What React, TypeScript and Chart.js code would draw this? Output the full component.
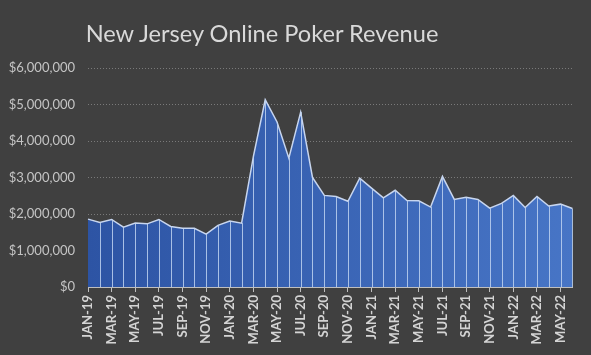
import React, { useEffect, useRef } from "react";
import { Chart, registerables } from "chart.js";

Chart.register(...registerables);

const TITLE = "New Jersey Online Poker Revenue";

const months: string[] = [
  "JAN-19", "FEB-19", "MAR-19", "APR-19", "MAY-19", "JUN-19", "JUL-19", "AUG-19", "SEP-19", "OCT-19", "NOV-19", "DEC-19",
  "JAN-20", "FEB-20", "MAR-20", "APR-20", "MAY-20", "JUN-20", "JUL-20", "AUG-20", "SEP-20", "OCT-20", "NOV-20", "DEC-20",
  "JAN-21", "FEB-21", "MAR-21", "APR-21", "MAY-21", "JUN-21", "JUL-21", "AUG-21", "SEP-21", "OCT-21", "NOV-21", "DEC-21",
  "JAN-22", "FEB-22", "MAR-22", "APR-22", "MAY-22", "JUN-22",
];

const revenue: number[] = [
  1860000, 1770000, 1850000, 1640000, 1750000, 1730000, 1850000, 1660000, 1610000, 1610000, 1450000, 1690000,
  1810000, 1750000, 3580000, 5130000, 4520000, 3530000, 4790000, 3000000, 2510000, 2480000, 2350000, 2980000,
  2710000, 2440000, 2650000, 2370000, 2360000, 2190000, 3030000, 2400000, 2460000, 2400000, 2160000, 2290000,
  2510000, 2180000, 2480000, 2220000, 2270000, 2150000,
];

const yMax = 6000000;
const yStep = 1000000;

const dropLines = {
  id: "dropLines",
  afterDatasetsDraw(chart: any) {
    const meta = chart.getDatasetMeta(0);
    const yScale = chart.scales.y;
    const base = yScale.getPixelForValue(0);
    const ctx = chart.ctx;
    ctx.save();
    ctx.strokeStyle = "rgba(190,210,240,0.85)";
    ctx.lineWidth = 1;
    meta.data.forEach((pt: any, i: number) => {
      if (i === 0) return;
      const x = Math.round(pt.x) + 0.5;
      ctx.beginPath();
      ctx.moveTo(x, pt.y);
      ctx.lineTo(x, base);
      ctx.stroke();
    });
    ctx.restore();
  },
};

export default function App() {
  const ref = useRef<HTMLCanvasElement | null>(null);

  useEffect(() => {
    document.body.style.margin = "0";
    document.body.style.background = "#404040";
    const canvas = ref.current!;
    const chart = new Chart(canvas, {
      type: "line",
      data: {
        labels: months,
        datasets: [
          {
            data: revenue,
            borderColor: "#c8d6ef",
            borderWidth: 1.5,
            pointRadius: 0,
            tension: 0,
            fill: "origin",
            backgroundColor: (c: any) => {
              const area = c.chart.chartArea;
              if (!area) return "#3a64b4";
              const g = c.chart.ctx.createLinearGradient(area.left, 0, area.right, 0);
              g.addColorStop(0, "#2d54a4");
              g.addColorStop(1, "#4775c6");
              return g;
            },
          },
        ],
      },
      options: {
        animation: false,
        responsive: false,
        maintainAspectRatio: false,
        layout: { padding: { top: 68, right: 14, left: 0, bottom: 0 } },
        plugins: {
          legend: { display: false },
          tooltip: { enabled: false },
          title: { display: false },
        },
        scales: {
          x: {
            offset: false,
            border: { display: true, color: "#bfbfbf", width: 1 },
            grid: {
              drawOnChartArea: false,
              drawTicks: true,
              tickLength: 5,
              color: (c: any) => (c.index % 2 === 0 ? "#bfbfbf" : "rgba(0,0,0,0)"),
            },
            ticks: {
              autoSkip: false,
              maxRotation: 90,
              minRotation: 90,
              padding: 3,
              color: "#d4d4d4",
              font: { family: "Lato", size: 13, weight: "bold" },
              callback: (_v: any, i: number) => (i % 2 === 0 ? months[i] : ""),
            },
            afterFit: (s: any) => {
              s.height = 68;
            },
          },
          y: {
            min: 0,
            max: yMax,
            border: { display: false, dash: [1, 2] },
            grid: {
              color: "#7a7a7a",
              lineWidth: 1,
              drawTicks: false,
            },
            ticks: {
              stepSize: yStep,
              padding: 13,
              color: "#c4c4c4",
              font: { family: "Lato", size: 13 },
              callback: (v: any) => "$" + Number(v).toLocaleString("en-US"),
            },
            afterFit: (s: any) => {
              s.width = 88;
            },
          },
        },
      },
      plugins: [dropLines],
    } as any);
    return () => chart.destroy();
  }, []);

  return (
    <div style={{ position: "relative", width: 591, height: 355, background: "#404040", overflow: "hidden" }}>
      <div
        style={{
          position: "absolute",
          left: 62,
          width: 400,
          top: 17,
          textAlign: "center",
          color: "#d9d9d9",
          fontFamily: "Lato",
          fontSize: 23.6,
          lineHeight: "32px",
          whiteSpace: "nowrap",
        }}
      >
        {TITLE}
      </div>
      <canvas ref={ref} width={591} height={355} style={{ display: "block", width: 591, height: 355 }} />
    </div>
  );
}
